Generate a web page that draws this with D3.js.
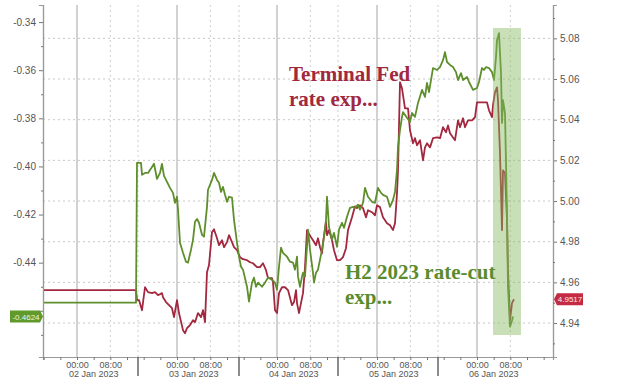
<!DOCTYPE html>
<html>
<head>
<meta charset="utf-8">
<script src="https://cdn.jsdelivr.net/npm/d3@7"></script>
<style>
  body { margin: 0; background: #fff; }
</style>
</head>
<body>
<svg id="chart" width="630" height="388" font-family="'Liberation Sans', Arial, sans-serif"></svg>
<script>
// Time is hours since 02 Jan 2023 00:00 (UTC)
// H2 2023 rate-cut expectation (left axis)
const rateCutExp = [
  [-8.16, -0.4566], [14.16, -0.4566], [14.4, -0.3985], [15.36, -0.3985], [15.6, -0.4035],
  [16.32, -0.4027], [17.04, -0.4027], [18.0, -0.4002], [18.48, -0.3989], [19.2, -0.4052],
  [19.92, -0.4027], [20.4, -0.3989], [20.88, -0.4039], [21.6, -0.4064], [22.32, -0.4089],
  [23.04, -0.4110], [23.52, -0.4151], [24.0, -0.4126], [24.24, -0.4180], [24.72, -0.4317],
  [25.44, -0.4359], [26.16, -0.4396], [26.64, -0.4400], [27.36, -0.4346], [27.84, -0.4305],
  [28.32, -0.4230], [28.8, -0.4218], [29.28, -0.4234], [30.0, -0.4284], [30.48, -0.4292],
  [31.2, -0.4168], [31.44, -0.4097], [32.4, -0.4056], [32.88, -0.4027], [33.6, -0.4056],
  [34.08, -0.4068], [34.56, -0.4106], [35.04, -0.4085], [35.52, -0.4118], [36.0, -0.4147],
  [36.48, -0.4126], [37.2, -0.4130], [37.68, -0.4222], [38.4, -0.4317], [38.88, -0.4375],
  [39.36, -0.4417], [39.84, -0.4429], [40.8, -0.4500], [41.28, -0.4562], [42.0, -0.4483],
  [42.48, -0.4462], [42.96, -0.4500], [43.44, -0.4483], [44.4, -0.4500], [45.12, -0.4483],
  [45.84, -0.4462], [46.8, -0.4471], [47.52, -0.4483], [48.0, -0.4512], [48.48, -0.4417],
  [48.96, -0.4338], [49.44, -0.4359], [50.4, -0.4375], [51.12, -0.4396], [51.84, -0.4400],
  [52.32, -0.4429], [52.8, -0.4375], [53.04, -0.4458], [53.52, -0.4500], [54.0, -0.4458],
  [54.24, -0.4442], [54.72, -0.4458], [55.2, -0.4334], [55.44, -0.4263], [55.92, -0.4346],
  [56.64, -0.4442], [56.88, -0.4483], [57.36, -0.4442], [57.84, -0.4429], [58.8, -0.4346],
  [59.28, -0.4292], [59.76, -0.4222], [60.0, -0.4126], [60.48, -0.4251], [61.2, -0.4305],
  [61.68, -0.4276], [62.4, -0.4334], [62.88, -0.4263], [63.6, -0.4234], [64.08, -0.4255],
  [64.8, -0.4209], [65.52, -0.4172], [66.24, -0.4168], [66.72, -0.4172], [67.44, -0.4159],
  [67.92, -0.4180], [68.64, -0.4151], [69.12, -0.4089], [69.84, -0.4126], [70.8, -0.4147],
  [71.52, -0.4151], [72.24, -0.4089], [72.96, -0.4110], [73.44, -0.4118], [74.4, -0.4126],
  [75.12, -0.4168], [75.84, -0.4139], [76.32, -0.4106], [76.8, -0.4014], [77.04, -0.3919],
  [77.52, -0.3848], [78.0, -0.3794], [78.24, -0.3774], [79.2, -0.3798], [79.92, -0.3815],
  [80.4, -0.3778], [81.12, -0.3794], [81.84, -0.3736], [82.8, -0.3682], [83.52, -0.3711],
  [84.0, -0.3653], [84.48, -0.3691], [85.44, -0.3591], [86.4, -0.3599], [87.12, -0.3587],
  [87.84, -0.3558], [88.32, -0.3525], [88.8, -0.3566], [89.52, -0.3578], [90.24, -0.3587],
  [90.96, -0.3608], [91.44, -0.3641], [92.16, -0.3612], [92.64, -0.3641], [93.6, -0.3628],
  [94.08, -0.3649], [95.04, -0.3682], [96.0, -0.3674], [96.48, -0.3649], [97.2, -0.3591],
  [97.68, -0.3599], [98.16, -0.3587], [98.88, -0.3591], [99.6, -0.3608], [100.08, -0.3641],
  [100.56, -0.3545], [100.8, -0.3475], [101.28, -0.3446], [101.76, -0.3612], [102.0, -0.3819],
  [102.24, -0.3724], [102.72, -0.3778], [103.2, -0.4193], [103.44, -0.4500], [103.92, -0.4666],
  [104.4, -0.4640], [104.64, -0.4624]
];

// Terminal Fed rate expectation (right axis)
const terminalFedExp = [
  [-8.16, 4.9562], [14.16, 4.9562], [14.4, 4.9513], [14.88, 4.9513], [15.6, 4.9463],
  [16.32, 4.9576], [17.04, 4.9552], [18.0, 4.9547], [18.72, 4.9552], [19.44, 4.9537],
  [20.4, 4.9547], [20.64, 4.9527], [21.36, 4.9503], [22.08, 4.9488], [22.8, 4.9473],
  [23.28, 4.9429], [24.0, 4.9513], [24.48, 4.9449], [25.44, 4.9365], [25.92, 4.9350],
  [26.4, 4.9375], [27.12, 4.9390], [27.84, 4.9414], [28.32, 4.9404], [29.04, 4.9449],
  [29.76, 4.9429], [30.24, 4.9463], [30.72, 4.9404], [31.2, 4.9650], [31.68, 4.9685],
  [32.4, 4.9847], [32.88, 4.9861], [33.6, 4.9817], [34.08, 4.9783], [34.8, 4.9807],
  [35.28, 4.9773], [36.0, 4.9798], [36.48, 4.9832], [37.2, 4.9798], [37.68, 4.9773],
  [38.4, 4.9758], [39.12, 4.9724], [39.84, 4.9714], [40.8, 4.9709], [41.52, 4.9699],
  [42.24, 4.9694], [43.2, 4.9675], [43.92, 4.9675], [44.64, 4.9694], [45.36, 4.9660],
  [45.84, 4.9621], [46.8, 4.9621], [47.04, 4.9601], [47.52, 4.9463], [48.0, 4.9449],
  [48.48, 4.9547], [49.2, 4.9576], [49.92, 4.9576], [50.64, 4.9562], [51.6, 4.9488],
  [52.08, 4.9503], [52.56, 4.9562], [52.8, 4.9498], [53.28, 4.9449], [53.76, 4.9498],
  [54.24, 4.9547], [54.72, 4.9675], [55.2, 4.9857], [55.44, 4.9847], [56.16, 4.9822],
  [56.64, 4.9807], [57.36, 4.9783], [57.84, 4.9817], [58.32, 4.9773], [58.8, 4.9743],
  [59.04, 4.9793], [59.76, 4.9896], [60.0, 4.9832], [60.48, 4.9857], [61.2, 4.9807],
  [61.68, 4.9758], [62.4, 4.9709], [63.12, 4.9709], [63.84, 4.9724], [64.56, 4.9768],
  [65.04, 4.9857], [66.0, 4.9920], [66.72, 4.9974], [67.2, 4.9965], [67.92, 4.9979],
  [68.64, 4.9965], [69.36, 4.9920], [69.84, 4.9955], [70.8, 4.9945], [71.52, 4.9930],
  [72.0, 4.9979], [72.72, 4.9970], [73.44, 4.9920], [73.92, 4.9906], [74.4, 4.9891],
  [75.12, 4.9881], [75.84, 4.9857], [76.32, 4.9891], [76.8, 5.0038], [77.04, 5.0151],
  [77.52, 5.0584], [78.0, 5.0554], [78.72, 5.0456], [79.44, 5.0456], [79.92, 5.0348],
  [80.64, 5.0284], [81.12, 5.0309], [81.6, 5.0274], [82.32, 5.0299], [83.04, 5.0200],
  [83.52, 5.0264], [84.0, 5.0284], [84.72, 5.0264], [85.44, 5.0309], [86.4, 5.0313],
  [87.12, 5.0309], [87.84, 5.0363], [88.56, 5.0338], [89.04, 5.0372], [89.52, 5.0333],
  [90.72, 5.0299], [91.44, 5.0397], [91.92, 5.0363], [92.64, 5.0407], [93.12, 5.0363],
  [93.84, 5.0397], [94.8, 5.0397], [95.52, 5.0412], [96.0, 5.0485], [97.2, 5.0485],
  [98.4, 5.0485], [98.88, 5.0446], [99.6, 5.0412], [99.84, 5.0471], [100.32, 5.0535],
  [100.8, 5.0559], [101.04, 5.0495], [101.52, 5.0235], [102.0, 4.9857], [102.24, 5.0151],
  [102.72, 5.0137], [103.2, 4.9906], [103.44, 4.9660], [103.92, 4.9414], [104.4, 4.9498],
  [104.88, 4.9517]
];

// -0.46 sits behind the last-value badge, so it gets a tick but no label
const leftTicks = [-0.34, -0.36, -0.38, -0.40, -0.42, -0.44, -0.46];
const rightTicks = [5.08, 5.06, 5.04, 5.02, 5.00, 4.98, 4.96, 4.94];
const dayLabels = ["02 Jan 2023", "03 Jan 2023", "04 Jan 2023", "05 Jan 2023", "06 Jan 2023"];
const daySeparators = [14.64, 38.88, 62.64, 86.64];
const highlightSpan = [99.84, 106.56];
const lastCut = -0.4624;
const lastFed = 4.9517;

const GREEN = "#5e8f2c";
const RED = "#a3283f";

const svg = d3.select("#chart");
const m = { left: 43, right: 553, top: 5, bottom: 357 };
const base = Date.UTC(2023, 0, 2);
const toDate = h => new Date(base + h * 3600e3);

const x = d3.scaleUtc()
  .domain([toDate(-8.16), toDate(114.24)])
  .range([m.left, m.right]);
const yL = d3.scaleLinear().domain([-0.4792, -0.3329]).range([m.bottom, m.top]);
const yR = d3.scaleLinear().domain([4.9233, 5.0964]).range([m.bottom, m.top]);

// horizontal dotted grid (right axis levels)
svg.append("g").selectAll("line")
  .data(rightTicks)
  .join("line")
  .attr("x1", m.left).attr("x2", m.right)
  .attr("y1", d => yR(d)).attr("y2", d => yR(d))
  .attr("stroke", "#c8c8c8").attr("stroke-dasharray", "2,3");

// vertical grid: solid at midnight, dotted at 08:00 and day breaks
const hourTicks = x.ticks(d3.utcHour.every(4));
const midnights = hourTicks.filter(d => d.getUTCHours() === 0);
const eights = hourTicks.filter(d => d.getUTCHours() === 8);
svg.append("g").selectAll("line")
  .data(midnights)
  .join("line")
  .attr("x1", d => x(d)).attr("x2", d => x(d))
  .attr("y1", m.top).attr("y2", m.bottom)
  .attr("stroke", "#b4b4b4").attr("stroke-width", 1.2);
svg.append("g").selectAll("line")
  .data(eights.concat(daySeparators.map(toDate)))
  .join("line")
  .attr("x1", d => x(d)).attr("x2", d => x(d))
  .attr("y1", m.top).attr("y2", m.bottom)
  .attr("stroke", "#cfcfcf").attr("stroke-dasharray", "2,3");

// series
const lineCut = d3.line().x(d => x(toDate(d[0]))).y(d => yL(d[1]));
const lineFed = d3.line().x(d => x(toDate(d[0]))).y(d => yR(d[1]));

svg.append("path").datum(terminalFedExp)
  .attr("d", lineFed).attr("fill", "none")
  .attr("stroke", RED).attr("stroke-width", 1.8).attr("stroke-linejoin", "round");
svg.append("path").datum(rateCutExp)
  .attr("d", lineCut).attr("fill", "none")
  .attr("stroke", GREEN).attr("stroke-width", 1.8).attr("stroke-linejoin", "round");

// highlight box on top, translucent
svg.append("rect")
  .attr("x", x(toDate(highlightSpan[0])))
  .attr("width", x(toDate(highlightSpan[1])) - x(toDate(highlightSpan[0])))
  .attr("y", 28).attr("height", 307)
  .attr("fill", "#86b860").attr("fill-opacity", 0.45);

// axes
const axisL = svg.append("g").attr("transform", `translate(${m.left},0)`)
  .call(d3.axisLeft(yL).tickValues(leftTicks).tickSize(4)
    .tickFormat(d => d < -0.45 ? "" : d3.format(".2f")(d).replace("−", "-")));
svg.append("g").attr("transform", `translate(${m.left},0)`)
  .call(d3.axisLeft(yL).tickValues(d3.range(-0.47, -0.33, 0.02)).tickSize(2).tickFormat(""));
const axisR = svg.append("g").attr("transform", `translate(${m.right},0)`)
  .call(d3.axisRight(yR).tickValues(rightTicks).tickSize(4).tickFormat(d3.format(".2f")));
svg.append("g").attr("transform", `translate(${m.right},0)`)
  .call(d3.axisRight(yR).tickValues(d3.range(4.93, 5.095, 0.02)).tickSize(2).tickFormat(""));
const axisB = svg.append("g").attr("transform", `translate(0,${m.bottom})`)
  .call(d3.axisBottom(x).tickValues(hourTicks).tickSize(3)
    .tickFormat(d => [0, 8].includes(d.getUTCHours()) ? d3.utcFormat("%H:%M")(d) : ""));

svg.selectAll(".domain").attr("stroke", "#999").attr("stroke-width", 1.2);
svg.selectAll(".tick line").attr("stroke", "#777");
[axisL, axisR, axisB].forEach(a => {
  a.selectAll("text").attr("fill", "#555").attr("font-size", 10)
    .attr("font-family", "'Liberation Sans', Arial, sans-serif");
});
axisR.select(".domain").attr("stroke", "#b59aa2");
axisB.selectAll("text").attr("font-size", 9).attr("dy", "0.55em");

// day labels and day-break ticks
svg.append("g").selectAll("text")
  .data(dayLabels)
  .join("text")
  .attr("x", (d, i) => x(toDate(i * 24 + 4)))
  .attr("y", 377)
  .attr("text-anchor", "middle")
  .attr("font-size", 9).attr("fill", "#555")
  .text(d => d);
svg.append("g").selectAll("line")
  .data(daySeparators)
  .join("line")
  .attr("x1", d => x(toDate(d))).attr("x2", d => x(toDate(d)))
  .attr("y1", m.bottom).attr("y2", 376)
  .attr("stroke", "#666").attr("stroke-width", 1.5);

// last-value badges
const bL = yL(lastCut);
svg.append("path")
  .attr("d", `M10,${bL - 6}H40L43,${bL}L40,${bL + 6}H10Z`)
  .attr("fill", "#5f9a2a");
svg.append("text").attr("x", 26).attr("y", bL + 3)
  .attr("text-anchor", "middle").attr("font-size", 8).attr("fill", "#eef5e6")
  .text(d3.format(".4f")(lastCut).replace("−", "-"));
const bR = yR(lastFed);
svg.append("path")
  .attr("d", `M554,${bR}L557,${bR - 6}H583V${bR + 6}H557Z`)
  .attr("fill", "#c42a42");
svg.append("text").attr("x", 570).attr("y", bR + 3)
  .attr("text-anchor", "middle").attr("font-size", 8).attr("fill", "#fbe9ec")
  .text(d3.format(".4f")(lastFed));

// annotations
const serif = "'Liberation Serif', 'DejaVu Serif', serif";
const notes = [
  { text: "Terminal Fed", x: 289, y: 81, fill: "#a0283f" },
  { text: "rate exp...", x: 289, y: 106, fill: "#a0283f" },
  { text: "H2 2023 rate-cut", x: 345, y: 279, fill: "#5a8c2e" },
  { text: "exp...", x: 345, y: 304, fill: "#5a8c2e" }
];
svg.append("g").selectAll("text")
  .data(notes)
  .join("text")
  .attr("x", d => d.x).attr("y", d => d.y)
  .attr("font-family", serif).attr("font-weight", "bold").attr("font-size", 21)
  .attr("fill", d => d.fill)
  .text(d => d.text);
</script>
</body>
</html>
